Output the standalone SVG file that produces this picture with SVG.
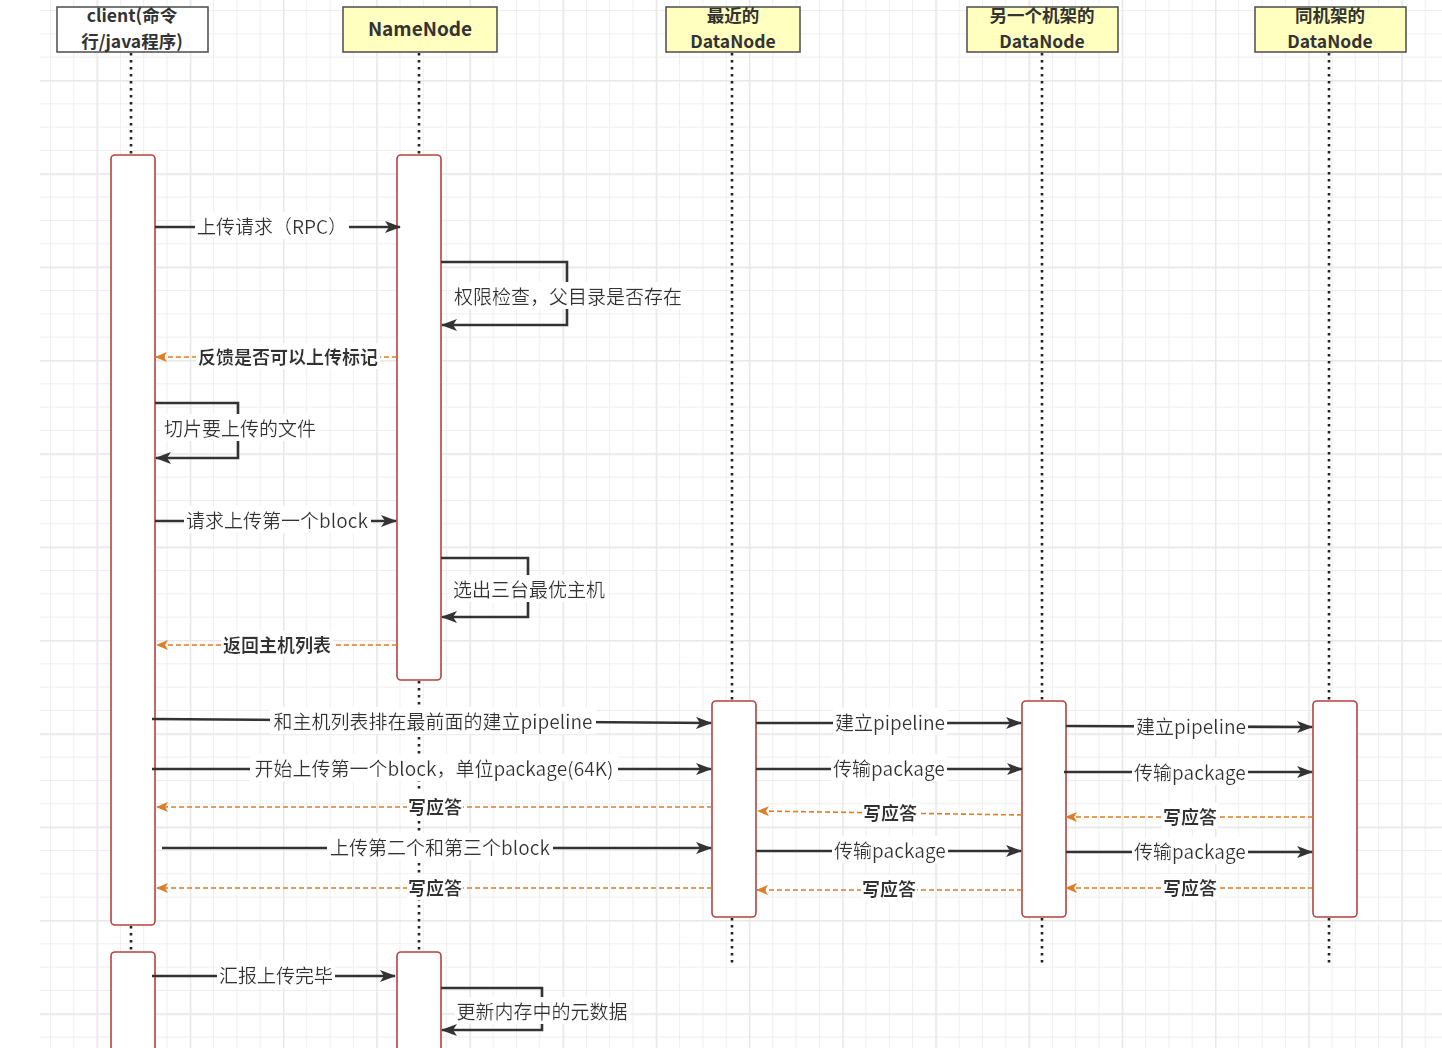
<svg xmlns="http://www.w3.org/2000/svg" width="1442" height="1048" viewBox="0 0 1442 1048">
<style>
.hdr{fill:#ffffc0;stroke:#555;stroke-width:1.6}
.hdrw{fill:#fff;stroke:#555;stroke-width:1.6}
.ht{font-family:"Noto Sans CJK SC","Noto Sans",sans-serif;font-weight:bold;font-size:19px;fill:#333;text-anchor:middle}
.ht2{font-family:"Noto Sans CJK SC","Noto Sans",sans-serif;font-weight:bold;font-size:17.5px;fill:#333;text-anchor:middle}
.life{stroke:#222;stroke-width:2.6;stroke-dasharray:2.6 4.4;fill:none}
.act{fill:#fff;stroke:#b8413f;stroke-width:1.6}
.msg{stroke:#333;stroke-width:2.6;fill:none;marker-end:url(#a)}
.ret{stroke:#dd7e27;stroke-width:1.6;stroke-dasharray:5 3;fill:none;marker-end:url(#o)}
.lb{font-family:"Noto Sans CJK SC",sans-serif;font-size:19px;fill:#333;text-anchor:middle;filter:url(#bg)}
.lbb{font-family:"Noto Sans CJK SC",sans-serif;font-size:18px;font-weight:bold;fill:#333;text-anchor:middle;filter:url(#bg)}
</style>
<defs>
<pattern id="minor" x="50" y="10" width="23.3" height="23.333" patternUnits="userSpaceOnUse">
<path d="M0.5,0 V23.333 M0,0.5 H23.3" stroke="#eeeeee" stroke-width="1" fill="none"/>
</pattern>
<pattern id="major" x="96.6" y="80" width="93.2" height="93.333" patternUnits="userSpaceOnUse">
<path d="M0.75,0 V93.333 M0,0.75 H93.2" stroke="#e8e8e8" stroke-width="1.5" fill="none"/>
</pattern>
<filter id="bg" x="-0.01" y="0" width="1.02" height="1">
<feFlood flood-color="#fff"/>
<feComposite in="SourceGraphic"/>
</filter>
<marker id="a" viewBox="0 0 16 12" refX="15" refY="6" markerWidth="16" markerHeight="12" markerUnits="userSpaceOnUse" orient="auto">
<path d="M0,0 L16,6 L0,12 L4,6 z" fill="#333"/>
</marker>
<marker id="o" viewBox="0 0 12 10" refX="11" refY="5" markerWidth="12" markerHeight="10" markerUnits="userSpaceOnUse" orient="auto">
<path d="M0,0 L12,5 L0,10 L3,5 z" fill="#dd7e27"/>
</marker>
</defs>
<rect x="0" y="0" width="1442" height="1048" fill="#fff"/>
<rect x="40" y="0" width="1402" height="1048" fill="url(#minor)"/>
<rect x="40" y="0" width="1402" height="1048" fill="url(#major)"/>

<g id="client">
<path class="life" d="M131,53 V155 M131,926 V952"/>
<rect class="hdrw" x="57" y="7" width="151" height="45"/>
<text class="ht2" x="132" y="22">client(命令<tspan x="132" dy="25.5">行/java程序)</tspan></text>
<rect class="act" x="111" y="155" width="44" height="770" rx="4"/>
<rect class="act" x="111" y="952" width="44" height="130" rx="4"/>
</g>

<g id="namenode">
<path class="life" d="M419,53 V155 M419,681 V952"/>
<rect class="hdr" x="343" y="7" width="154" height="45"/>
<text class="ht" x="420" y="36">NameNode</text>
<rect class="act" x="397" y="155" width="44" height="525" rx="4"/>
<rect class="act" x="397" y="952" width="44" height="130" rx="4"/>
</g>

<g id="datanode1">
<path class="life" d="M732,53 V701 M732,918 V965"/>
<rect class="hdr" x="666" y="7" width="134" height="45"/>
<text class="ht2" x="733" y="22">最近的<tspan x="733" dy="25.5">DataNode</tspan></text>
<rect class="act" x="712" y="701" width="44" height="216" rx="4"/>
</g>

<g id="datanode2">
<path class="life" d="M1042,53 V701 M1042,918 V965"/>
<rect class="hdr" x="967" y="7" width="151" height="45"/>
<text class="ht2" x="1042" y="22">另一个机架的<tspan x="1042" dy="25.5">DataNode</tspan></text>
<rect class="act" x="1022" y="701" width="44" height="216" rx="4"/>
</g>

<g id="datanode3">
<path class="life" d="M1329,53 V701 M1329,918 V965"/>
<rect class="hdr" x="1255" y="7" width="151" height="45"/>
<text class="ht2" x="1330" y="22">同机架的<tspan x="1330" dy="25.5">DataNode</tspan></text>
<rect class="act" x="1313" y="701" width="44" height="216" rx="4"/>
</g>

<g id="connectors">
<path class="msg" d="M155,227 H400"/>
<text class="lb" x="272" y="234">上传请求（RPC）</text>

<path class="msg" d="M441,262 H567 V325 H442"/>
<text class="lb" x="568" y="304">权限检查，父目录是否存在</text>

<path class="ret" d="M397,357 H156"/>
<text class="lbb" x="288" y="364">反馈是否可以上传标记</text>

<path class="msg" d="M155,403 H238 V458 H156"/>
<text class="lb" x="240" y="436">切片要上传的文件</text>

<path class="msg" d="M155,521 H396"/>
<text class="lb" x="277" y="528">请求上传第一个block</text>

<path class="msg" d="M441,558 H528 V617 H442"/>
<text class="lb" x="529" y="597">选出三台最优主机</text>

<path class="ret" d="M397,645 H157"/>
<text class="lbb" x="277" y="652">返回主机列表</text>

<path class="msg" d="M152,719 L711,723"/>
<text class="lb" x="433" y="729">和主机列表排在最前面的建立pipeline</text>

<path class="msg" d="M152,769 H711"/>
<text class="lb" x="434" y="776">开始上传第一个block，单位package(64K)</text>

<path class="ret" d="M712,807 H157"/>
<text class="lbb" x="435" y="814">写应答</text>

<path class="msg" d="M162,848 H711"/>
<text class="lb" x="440" y="855">上传第二个和第三个block</text>

<path class="ret" d="M712,888 H157"/>
<text class="lbb" x="435" y="895">写应答</text>

<path class="msg" d="M756,723 H1021"/>
<text class="lb" x="890" y="730">建立pipeline</text>

<path class="msg" d="M756,769 H1022"/>
<text class="lb" x="889" y="776">传输package</text>

<path class="ret" d="M1022,815 L758,811"/>
<text class="lbb" x="890" y="820">写应答</text>

<path class="msg" d="M756,851 H1021"/>
<text class="lb" x="890" y="858">传输package</text>

<path class="ret" d="M1022,890 H757"/>
<text class="lbb" x="889" y="896">写应答</text>

<path class="msg" d="M1066,726 L1312,727"/>
<text class="lb" x="1191" y="734">建立pipeline</text>

<path class="msg" d="M1064,772 H1312"/>
<text class="lb" x="1190" y="780">传输package</text>

<path class="ret" d="M1313,817 H1066"/>
<text class="lbb" x="1190" y="824">写应答</text>

<path class="msg" d="M1066,852 H1312"/>
<text class="lb" x="1190" y="859">传输package</text>

<path class="ret" d="M1313,888 H1066"/>
<text class="lbb" x="1190" y="895">写应答</text>

<path class="msg" d="M152,976 H395"/>
<text class="lb" x="276" y="983">汇报上传完毕</text>

<path class="msg" d="M441,988 H542 V1030 H442"/>
<text class="lb" x="542" y="1019">更新内存中的元数据</text>
</g>
</svg>
